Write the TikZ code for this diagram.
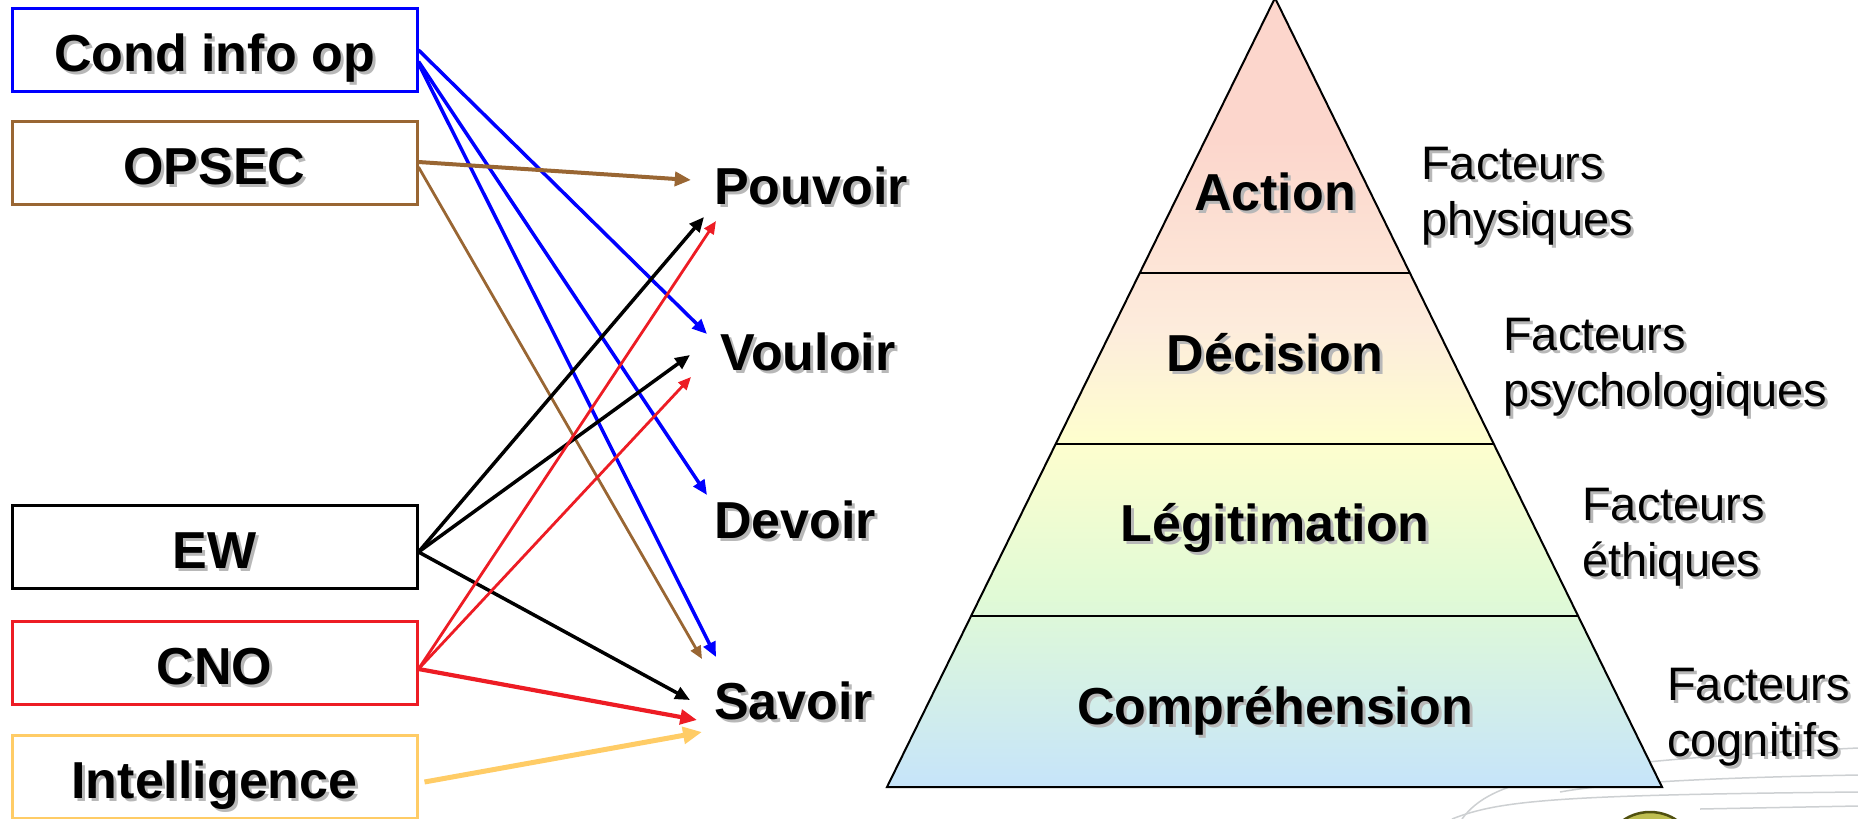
\documentclass[tikz,border=0pt]{standalone}
\usepackage{fontspec}
\setmainfont{Liberation Sans}
\usetikzlibrary{arrows.meta,calc}

\definecolor{condblue}{RGB}{0,0,255}
\definecolor{opsecbrown}{RGB}{153,102,51}
\definecolor{cnored}{RGB}{237,28,36}
\definecolor{intelorange}{RGB}{255,204,102}
\definecolor{pyrpink}{RGB}{252,214,204}
\definecolor{pyrpeach}{RGB}{253,236,220}
\definecolor{pyryellow}{RGB}{254,254,206}
\definecolor{pyrgreen}{RGB}{224,250,214}
\definecolor{pyrblue}{RGB}{198,228,250}
\definecolor{logogray}{RGB}{205,208,210}
\definecolor{logoolive}{RGB}{80,80,15}
\definecolor{logoyellow}{RGB}{190,190,80}

\pgfdeclareverticalshading{pyramid}{100bp}{color(0bp)=(pyrblue); color(25bp)=(pyrblue);
  color(37bp)=(pyrgreen); color(47bp)=(pyryellow); color(54bp)=(pyrpeach);
  color(66bp)=(pyrpink); color(100bp)=(pyrpink)}

\newcommand\bigbold{\fontsize{52}{60}\selectfont\bfseries}
\newcommand\factorfont{\fontsize{47}{56}\selectfont}
\newcommand\shd[1]{\leavevmode\rlap{\kern3pt\raisebox{-3pt}{\textcolor{black!28}{#1}}}#1}

\tikzstyle{box}=[draw,line width=3pt,minimum width=405pt,minimum height=83pt,inner sep=0pt,
                 text height=46.8pt,text depth=3.6pt,font=\bigbold]
\tikzstyle{goal}=[anchor=west,inner sep=0pt,font=\bigbold]
\tikzstyle{level}=[inner sep=0pt,text height=46.8pt,text depth=3.6pt,font=\bigbold]
\tikzstyle{factor}=[anchor=west,align=left,inner sep=0pt,font=\factorfont]
\tikzstyle{link}=[-{Triangle[length=5pt 2.8,width=4pt 2.5]}]
\tikzstyle{pyr line}=[line width=2pt,line join=miter]

\begin{document}
\begin{tikzpicture}[x=1pt,y=-1pt]
\useasboundingbox (0,0) rectangle (1858,819);
\clip (0,0) rectangle (1858,819);

% logo in the background
\draw[logogray,line width=1.5pt] (1462,819) .. controls (1490,780) and (1560,762) .. (1858,748);
\draw[logogray,line width=1.5pt] (1560,792) .. controls (1620,781) and (1750,777) .. (1858,775);
\draw[logogray,line width=1.5pt] (1452,819) .. controls (1500,800) and (1560,795) .. (1858,792);
\draw[logogray,line width=1.5pt] (1700,809) -- (1858,806);
\draw[logoolive,fill=logoyellow,line width=2.5pt] (1650,852) ellipse (44 and 40);

% pyramid
\coordinate (apex) at (1275,-2);
\coordinate (bl) at (887,787);
\coordinate (br) at (1662,787);
\shade[shading=pyramid] (apex) -- (bl) -- (br) -- cycle;
\draw[pyr line] (apex) -- (bl) -- (br) -- cycle;
\foreach \t in {0.3485,0.5653,0.7833}
  \draw[pyr line] ($(apex)!\t!(bl)$) -- ($(apex)!\t!(br)$);

\foreach \y/\name/\txt in {189/action/Action, 350/decision/Décision,
                           520/legit/Légitimation, 703/compr/Compréhension}
  \node[level] (\name) at (1275,\y) {\shd{\txt}};

\foreach \x/\y/\name/\txt in {1421/198/physique/physiques, 1503/369/psycho/psychologiques,
                              1582/539/ethique/éthiques, 1667/719/cognitif/cognitifs}
  \node[factor] (\name) at (\x,\y) {\shd{Facteurs}\\\shd{\txt}};

% sources and goals
\foreach \y/\name/\txt/\col in {49.5/cond/Cond info op/condblue, 163/opsec/OPSEC/opsecbrown,
                                546.5/ew/EW/black, 663/cno/CNO/cnored,
                                776.5/intel/Intelligence/intelorange}
  \node[box,draw=\col] (\name) at (214.5,\y) {\shd{\txt}};

\foreach \x/\y/\name/\txt in {714/187/pouvoir/Pouvoir, 720/353/vouloir/Vouloir,
                              714/521/devoir/Devoir, 714/702/savoir/Savoir}
  \node[goal] (\name) at (\x,\y) {\shd{\txt}};

\foreach \src/\sx/\sy/\dst/\dx/\dy/\col/\lw in {
    cond/0/0.5/vouloir/-13/-19/condblue/3.5pt, cond/0/12/devoir/-7/-26/condblue/3.5pt,
    cond/0/14/savoir/2/-45/condblue/3.5pt,
    opsec/0/-1/pouvoir/-23/-7/opsecbrown/4pt, opsec/0/4/savoir/-12/-43/opsecbrown/2.8pt,
    ew/0/5.5/pouvoir/-10/30/black/3.5pt, ew/0/5.5/vouloir/-30/2/black/3.5pt,
    ew/0/5.5/savoir/-24/-2/black/3.5pt,
    cno/0/6/pouvoir/2/34/cnored/2.8pt, cno/0/6/vouloir/-29/24/cnored/2.8pt,
    cno/0/6/savoir/-17/18/cnored/4.2pt,
    intel/6/5.5/savoir/-12/30/intelorange/5pt}
  \draw[link,color=\col,line width=\lw] ($(\src.east)+(\sx,\sy)$) -- ($(\dst.west)+(\dx,\dy)$);
\end{tikzpicture}
\end{document}
